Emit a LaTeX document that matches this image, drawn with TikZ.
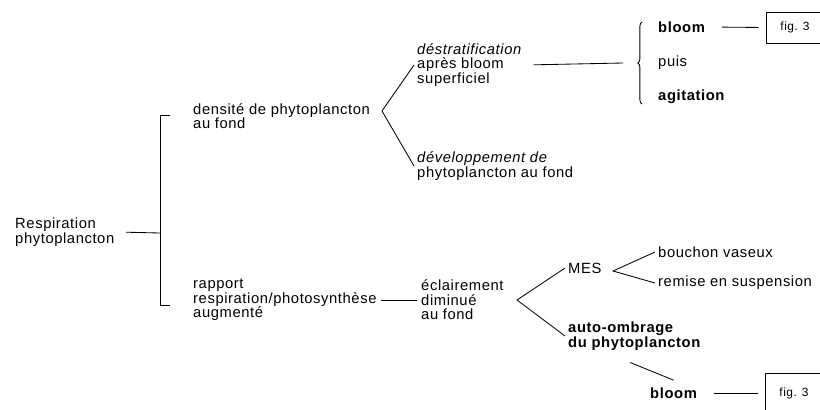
\documentclass[tikz,border=0pt]{standalone}
\usepackage{fontspec}
\setmainfont{Liberation Sans}[LetterSpace=4]
\usetikzlibrary{decorations.pathreplacing}

\begin{document}
\begin{tikzpicture}[x=0.025cm,y=-0.025cm,line width=0.6pt,
        txt/.style={anchor=west,align=left,inner xsep=2pt,inner ysep=0pt,font=\fontsize{10.5}{10.3}\selectfont},
        figbox/.style={draw,minimum width=1.45cm,inner sep=0pt,font=\fontsize{8.5}{10}\selectfont}]

        \useasboundingbox (0,0) rectangle (820,409);

        \node (resp) at (12,232)[txt]{Respiration\\phytoplancton};

        \coordinate (br) at (160,233);

        \draw[shorten <=6pt] (resp.east) -- (br);

        \draw (170,115) -- (160,115) -- (160,305) -- (170,305);

        \node (dens) at (190,116)[txt]{densité de phytoplancton\\au fond};

        \node (destrat) at (414,65)[txt]{\textit{déstratification}\\après bloom\\superficiel};

        \node (devel) at (414,166)[txt]{\textit{développement de}\\phytoplancton au fond};

        \coordinate (va) at (382,111);

        \draw (destrat.west) -- (va) -- (devel.west);

        \coordinate (bt) at (623,63);

        \draw[shorten <=6pt] (destrat.east) -- (bt);

        \draw[decorate,decoration={brace,amplitude=3pt}] (642,104) -- (642,22);

        \node (bloomA) at (655,27)[txt,font=\fontsize{10.5}{10.3}\selectfont\bfseries]{bloom};

        \node (puis) at (655,63)[txt]{puis};

        \node (agit) at (655,97)[txt,font=\fontsize{10.5}{10.3}\selectfont\bfseries]{agitation};

        \node (figA) at (795,27.5)[figbox,minimum height=0.775cm]{fig. 3};

        \draw[shorten <=10pt,shorten >=5pt] (bloomA.east) -- (figA.west);

        \node (rapp) at (190,300)[txt]{rapport\\respiration/photosynthèse\\augmenté};

        \node (ecl) at (418,300)[txt]{éclairement\\diminué\\au fond};

        \draw[shorten <=1pt,shorten >=1pt] (rapp.east) -- (ecl.west);

        \node (mes) at (565,268)[txt]{MES};

        \node (auto) at (565,336)[txt,font=\fontsize{10.5}{10.3}\selectfont\bfseries]{auto-ombrage\\du phytoplancton};

        \coordinate (vb) at (517,300);

        \draw (mes.west) -- (vb) -- (auto.west);

        \node (bouch) at (655,252)[txt]{bouchon vaseux};

        \node (remise) at (655,283)[txt]{remise en suspension};

        \coordinate (vc) at (613,271);

        \draw (bouch.west) -- (vc) -- (remise.west);

        \node (bloomB) at (647,393)[txt,font=\fontsize{10.5}{10.3}\selectfont\bfseries]{bloom};

        \draw ([shift={(-4,12)}]auto.south) -- ([shift={(0,-7)}]bloomB.north);

        \node (figB) at (794,393)[figbox,minimum height=1cm]{fig. 3};

        \draw[shorten <=10pt,shorten >=5pt] (bloomB.east) -- (figB.west);
   \end{tikzpicture}
\end{document}
